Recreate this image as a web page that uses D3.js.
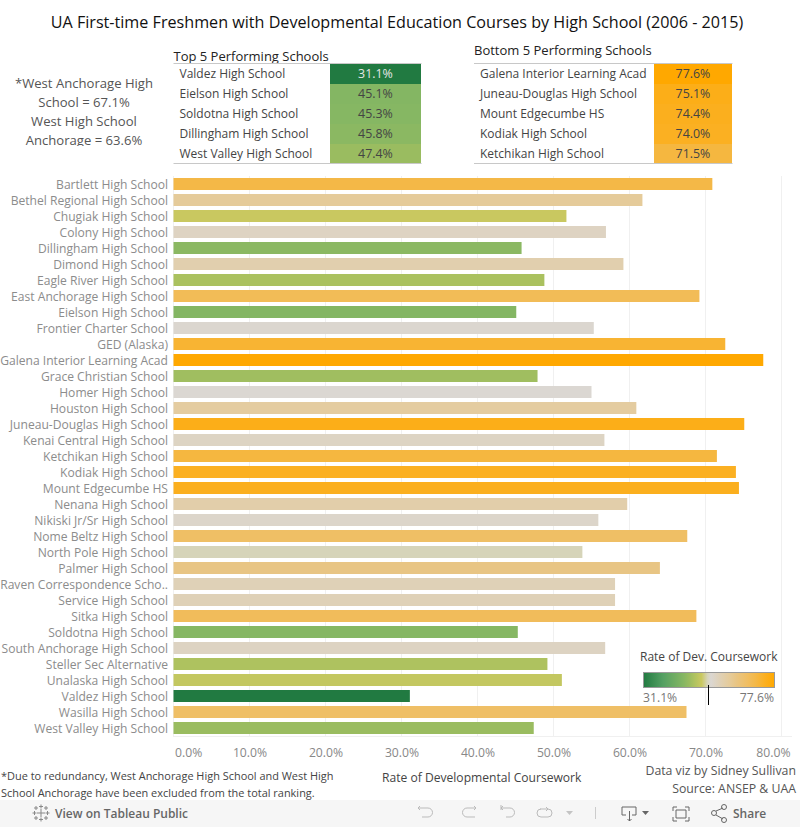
<!DOCTYPE html>
<html lang="en">
<head>
<meta charset="UTF-8">
<title>UA First-time Freshmen with Developmental Education Courses</title>
<script src="https://d3js.org/d3.v7.min.js"></script>
<style>
  html, body { margin: 0; padding: 0; background: #fff; overflow: hidden; }
  svg { display: block; font-family: "Open Sans", sans-serif; }
</style>
</head>
<body>
<svg width="800" height="827"></svg>
<script>
const schools = ["Bartlett High School","Bethel Regional High School","Chugiak High School","Colony High School","Dillingham High School","Dimond High School","Eagle River High School","East Anchorage High School","Eielson High School","Frontier Charter School","GED (Alaska)","Galena Interior Learning Acad","Grace Christian School","Homer High School","Houston High School","Juneau-Douglas High School","Kenai Central High School","Ketchikan High School","Kodiak High School","Mount Edgecumbe HS","Nenana High School","Nikiski Jr/Sr High School","Nome Beltz High School","North Pole High School","Palmer High School","Raven Correspondence Scho..","Service High School","Sitka High School","Soldotna High School","South Anchorage High School","Steller Sec Alternative","Unalaska High School","Valdez High School","Wasilla High School","West Valley High School"];
const rates = [70.9,61.7,51.7,56.9,45.8,59.2,48.8,69.2,45.1,55.3,72.6,77.6,47.9,55.0,60.9,75.1,56.7,71.5,74.0,74.4,59.7,55.9,67.6,53.8,64.0,58.1,58.1,68.8,45.3,56.8,49.2,51.1,31.1,67.5,47.4];
const topNames = ["Valdez High School","Eielson High School","Soldotna High School","Dillingham High School","West Valley High School"];
const topRates = [31.1,45.1,45.3,45.8,47.4];
const bottomNames = ["Galena Interior Learning Acad","Juneau-Douglas High School","Mount Edgecumbe HS","Kodiak High School","Ketchikan High School"];
const bottomRates = [77.6,75.1,74.4,74.0,71.5];
const xTicks = [0,10,20,30,40,50,60,70,80];

const svg = d3.select("svg");
const pct = d => d.toFixed(1) + "%";

// ramp picked off the bars, goes grey fast just above 52%
const color = d3.scaleLinear()
  .domain([31.1, 38, 45.1, 47.4, 49.2, 51.7, 53.8, 55, 58, 61.7, 64, 68, 71, 74, 77.6])
  .range(["#217a41", "#55a063", "#84b663", "#9abc60", "#aec25f", "#c9c860", "#d6d4b9", "#dbd7d2", "#dfd1b8", "#e5cb9a", "#e8c584", "#f0be62", "#f4b846", "#fbb022", "#ffa800"]);

const x = d3.scaleLinear().domain([0, 80]).range([173.5, 781.5]);
const y = d3.scaleBand().domain(schools).range([176, 736]).paddingInner(0.25).paddingOuter(0.125);

// title
svg.append("text").attr("x", 397).attr("y", 28).attr("text-anchor", "middle")
  .attr("font-size", 16.15).attr("fill", "#111").text("UA First-time Freshmen with Developmental Education Courses by High School (2006 - 2015)");

// side note, last line gets cut off in the original
svg.append("defs").append("clipPath").attr("id", "note-clip")
  .append("rect").attr("x", 0).attr("y", 70).attr("width", 170).attr("height", 76);
const note = svg.append("g").attr("clip-path", "url(#note-clip)");
["*West Anchorage High", "School = 67.1%", "West High School", "Anchorage = 63.6%"].forEach((t, i) => {
  note.append("text").attr("x", 84).attr("y", 88 + i * 19).attr("text-anchor", "middle")
    .attr("font-size", 13.1).attr("fill", "#555").text(t);
});

// top / bottom tables
function table(title, titleY, left, names, vals, cellX, right) {
  const g = svg.append("g");
  g.append("text").attr("x", left).attr("y", titleY).attr("font-size", 13).attr("fill", "#222").text(title);
  const row = d3.scaleBand().domain(names).range([64, 164]);
  g.selectAll("rect").data(names).enter().append("rect")
    .attr("x", cellX).attr("y", d => row(d)).attr("width", right - cellX).attr("height", row.bandwidth())
    .attr("fill", (d, i) => color(vals[i]));
  g.selectAll(".nm").data(names).enter().append("text").attr("class", "nm")
    .attr("x", left + 6).attr("y", d => row(d) + 14).attr("font-size", 12).attr("fill", "#444").text(d => d);
  g.selectAll(".vl").data(names).enter().append("text").attr("class", "vl")
    .attr("x", (cellX + right) / 2).attr("y", d => row(d) + 14).attr("text-anchor", "middle").attr("font-size", 12.4)
    .attr("fill", (d, i) => vals[i] < 35 ? "#e6e6e6" : "#444").text((d, i) => pct(vals[i]));
  [63.5, 163.5].forEach(ly => g.append("line").attr("x1", left).attr("x2", right + 0.5).attr("y1", ly).attr("y2", ly).attr("stroke", "#c8c8c8"));
}
table("Top 5 Performing Schools", 61, 173.5, topNames, topRates, 330, 421);
table("Bottom 5 Performing Schools", 55, 474, bottomNames, bottomRates, 654, 732);

// gridlines and axis
svg.selectAll(".grid").data(xTicks).enter().append("line").attr("class", "grid")
  .attr("x1", d => x(d)).attr("x2", d => x(d)).attr("y1", 176).attr("y2", 737).attr("stroke", "#f0f0f0");
svg.append("line").attr("x1", 173.5).attr("x2", 792).attr("y1", 736.5).attr("y2", 736.5).attr("stroke", "#f0f0f0");
const axis = svg.append("g").attr("transform", "translate(0,737)")
  .call(d3.axisBottom(x).tickValues(xTicks).tickSize(0).tickPadding(11).tickFormat(d => d.toFixed(1) + "%"));
axis.select(".domain").remove();
axis.selectAll("text").attr("font-size", 12.2).attr("fill", "#888").attr("font-family", "'Open Sans', sans-serif");
// end labels get pushed inward so they stay inside the pane
axis.selectAll("text").filter(d => d === 0).attr("text-anchor", "start").attr("dx", 1);
axis.selectAll("text").filter(d => d === 80).attr("text-anchor", "end").attr("dx", 8.5);

// bars
svg.selectAll(".bar").data(schools).enter().append("rect").attr("class", "bar")
  .attr("x", x(0)).attr("y", d => y(d)).attr("height", y.bandwidth())
  .attr("width", (d, i) => x(rates[i]) - x(0)).attr("fill", (d, i) => color(rates[i]));
svg.selectAll(".lab").data(schools).enter().append("text").attr("class", "lab")
  .attr("x", 168).attr("y", d => y(d) + y.bandwidth() / 2 + 4.5).attr("text-anchor", "end")
  .attr("font-size", 12.1).attr("fill", "#8c8c8c").text(d => d);

// axis title and footers
svg.append("text").attr("x", 382).attr("y", 782).attr("font-size", 12.1).attr("fill", "#444").text("Rate of Developmental Coursework");
["*Due to redundancy, West Anchorage High School and West High", "School Anchorage have been excluded from the total ranking."].forEach((t, i) => {
  svg.append("text").attr("x", 1).attr("y", 780 + i * 17).attr("font-size", 10.95).attr("fill", "#444").text(t);
});
["Data viz by Sidney Sullivan", "Source: ANSEP & UAA"].forEach((t, i) => {
  svg.append("text").attr("x", 796).attr("y", 775 + i * 18).attr("text-anchor", "end").attr("font-size", 12.3).attr("fill", "#555").text(t);
});

// legend
svg.append("text").attr("x", 640).attr("y", 661).attr("font-size", 12).attr("fill", "#444").text("Rate of Dev. Coursework");
const legendX = d3.scaleLinear().domain([31.1, 77.6]).range([0, 1]);
const grad = svg.select("defs").append("linearGradient").attr("id", "legend-gradient");
grad.selectAll("stop").data(color.domain()).enter().append("stop")
  .attr("offset", d => legendX(d)).attr("stop-color", d => color(d));
svg.append("rect").attr("x", 643.5).attr("y", 672.5).attr("width", 131).attr("height", 15)
  .attr("fill", "url(#legend-gradient)").attr("stroke", "#999");
svg.append("text").attr("x", 643).attr("y", 702).attr("font-size", 12.2).attr("fill", "#777").text(pct(31.1));
svg.append("text").attr("x", 774).attr("y", 702).attr("text-anchor", "end").attr("font-size", 12.2).attr("fill", "#777").text(pct(77.6));
svg.append("line").attr("x1", 708.5).attr("x2", 708.5).attr("y1", 685).attr("y2", 705).attr("stroke", "#000");

// tableau toolbar
const bar = svg.append("g");
bar.append("rect").attr("x", 0).attr("y", 800).attr("width", 800).attr("height", 27).attr("fill", "#f6f6f6");
bar.append("text").attr("x", 55).attr("y", 818).attr("font-size", 12).attr("font-weight", 600).attr("fill", "#666").text("View on Tableau Public");
bar.append("text").attr("x", 733).attr("y", 818).attr("font-size", 12).attr("font-weight", 600).attr("fill", "#666").text("Share");
// logo
[[41,813,4],[34.5,813,2],[47.5,813,2],[41,806.5,2],[41,819.5,2],[36,808,2],[46,808,2],[36,818,2],[46,818,2]].forEach(c => {
  bar.append("path").attr("d", `M${c[0]-c[2]} ${c[1]}H${c[0]+c[2]}M${c[0]} ${c[1]-c[2]}V${c[1]+c[2]}`).attr("stroke", "#888").attr("fill", "none");
});
const icons = [
  "M420 806l-2 2 2 2M418 808h10a4.5 4.5 0 0 1 0 9h-6",
  "M476 808h-9a4.5 4.5 0 0 0 0 9h8M474 806l2 2-2 2",
  "M501 805v5M501 808h9a4.5 4.5 0 0 1 0 9h-4M503 806l-2 2 2 2",
  "M540 809h8a4 4 0 0 1 0 8h-7a4 4 0 0 1 0-8M546 807l2 2-2 2"
];
icons.forEach(d => bar.append("path").attr("d", d).attr("fill", "none").attr("stroke", "#bbb").attr("stroke-width", 1));
bar.append("path").attr("d", "M566 811h7l-3.5 4z").attr("fill", "#c4c4c4");
bar.append("line").attr("x1", 595.5).attr("x2", 595.5).attr("y1", 807).attr("y2", 819).attr("stroke", "#ccc");
bar.append("path").attr("d", "M626 815h-4v-8h14v8h-4M629.5 811v10M627.5 819l2 2 2-2").attr("fill", "none").attr("stroke", "#666");
bar.append("path").attr("d", "M642 811h7l-3.5 4z").attr("fill", "#666");
bar.append("path").attr("d", "M673 811v-4h4M685 807h4v4M689 817v4h-4M677 821h-4v-4M676 810h10v8h-10z").attr("fill", "none").attr("stroke", "#666");
bar.append("path").attr("d", "M716 811l7-3M716 815l7 4").attr("stroke", "#666").attr("fill", "none");
[[714,813,2.5],[724,807,2.5],[724,820,2.5]].forEach(c => bar.append("circle").attr("cx", c[0]).attr("cy", c[1]).attr("r", c[2]).attr("fill", "none").attr("stroke", "#666"));
</script>
</body>
</html>
